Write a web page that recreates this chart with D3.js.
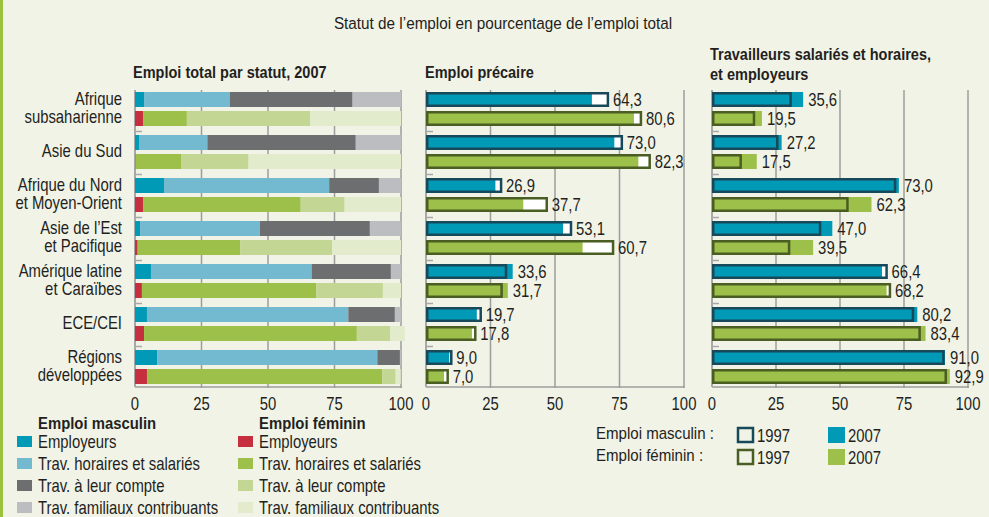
<!DOCTYPE html>
<html>
<head>
<meta charset="utf-8">
<script src="https://cdn.jsdelivr.net/npm/d3@7"></script>
<style>
  body { margin: 0; background: #f1f3e7; }
  svg text { font-family: "Liberation Sans Narrow", "Arial Narrow", "Liberation Sans", sans-serif; fill: #231f20; }
  .bold { font-weight: bold; }
</style>
</head>
<body>
<svg width="989" height="517"></svg>
<script>
// regions (line breaks as in the original chart)
var regions = [
  "Afrique\nsubsaharienne",
  "Asie du Sud",
  "Afrique du Nord\net Moyen-Orient",
  "Asie de l\u2019Est\net Pacifique",
  "Amérique latine\net Caraïbes",
  "ECE/CEI",
  "Régions\ndéveloppées"
];
var statuts = ["Employeurs", "Trav. horaires et salariés", "Trav. à leur compte", "Trav. familiaux contribuants"];
var ticks = [0, 25, 50, 75, 100];

// emploi total par statut, 2007 (employeurs, salariés, à leur compte, familiaux)
var hommes2007 = [
  [3.4, 32.3, 46.1, 18.2],
  [1.5, 25.7, 55.8, 17.0],
  [10.9, 62.1, 18.7, 8.3],
  [1.9, 45.1, 41.3, 11.7],
  [6.0, 60.4, 29.8, 3.8],
  [4.5, 75.7, 17.5, 2.3],
  [8.3, 82.8, 8.5, 0.4]
];
var femmes2007 = [
  [3.0, 16.5, 46.3, 34.2],
  [0.2, 17.3, 25.2, 57.3],
  [3.0, 59.3, 16.5, 21.2],
  [1.0, 38.5, 34.6, 25.9],
  [2.6, 65.6, 25.0, 6.8],
  [3.4, 80.0, 12.5, 5.5],
  [4.5, 88.5, 5.0, 1.9]
];

// emploi précaire
var precaireH1997 = [70.5, 75.9, 29.1, 56.2, 31.0, 21.2, 9.8];
var precaireH2007 = [64.3, 73.0, 26.9, 53.1, 33.6, 19.7, 9.0];
var precaireF1997 = [83.3, 86.7, 46.8, 72.5, 29.3, 19.1, 8.4];
var precaireF2007 = [80.6, 82.3, 37.7, 60.7, 31.7, 17.8, 7.0];

// travailleurs salariés et horaires, et employeurs
var salariesH1997 = [30.7, 25.5, 71.5, 42.2, 68.2, 78.5, 90.4];
var salariesH2007 = [35.6, 27.2, 73.0, 47.0, 66.4, 80.2, 91.0];
var salariesF1997 = [16.4, 11.2, 52.9, 30.1, 69.5, 81.1, 91.3];
var salariesF2007 = [19.5, 17.5, 62.3, 39.5, 68.2, 83.4, 92.9];

var colH = ["#0099b6", "#73b9d0", "#6d6e70", "#bcbdc0"];
var colF = ["#c6303e", "#9dc04a", "#c3d694", "#e3ebcd"];
var strokeH = "#17495a", strokeF = "#4a5d23";
var gridCol = "#9d9d9d";

var svg = d3.select("svg");
var fmt = function(v) { return d3.format(".1f")(v).replace(".", ","); };

// condensed text: the narrow face is not installed, so squeeze horizontally
var SX = 0.85;
function txt(parent, x, y, s, size, sx) {
  return parent.append("text")
    .attr("transform", "translate(" + x + "," + y + ") scale(" + (sx || SX) + ",1)")
    .style("font-size", size + "px")
    .text(s);
}

// left green border
svg.append("rect").attr("x", 0).attr("y", 0).attr("width", 3).attr("height", 517).attr("fill", "#9bc23c");

// main title
txt(svg, 503, 29, "Statut de l\u2019emploi en pourcentage de l\u2019emploi total", 17, 0.9)
  .attr("text-anchor", "middle");

// band scale for regions
var y = d3.scaleBand().domain(d3.range(regions.length)).range([90, 391]);
var barH = 15, offH = 2, offF = 21;
var yTop = 90, yAxis = 387;

// region labels
regions.forEach(function(r, i) {
  var lines = r.split("\n");
  var c = y(i) + 19;
  lines.forEach(function(l, k) {
    txt(svg, 122, c + 4.5 + (k - (lines.length - 1) / 2) * 18, l, 17.5).attr("text-anchor", "end");
  });
});

// draws gridlines, axis and separator ticks for a panel
function drawFrame(x) {
  var g = svg.append("g");
  g.selectAll(".grid").data(ticks.slice(1)).enter().append("line")
    .attr("x1", function(d) { return x(d); }).attr("x2", function(d) { return x(d); })
    .attr("y1", yTop).attr("y2", yAxis + 1)
    .attr("stroke", gridCol).attr("stroke-width", 1.5);
  g.append("line").attr("x1", x(0)).attr("x2", x(100) + 1).attr("y1", yAxis).attr("y2", yAxis)
    .attr("stroke", gridCol).attr("stroke-width", 1.5);
  g.append("line").attr("x1", x(0)).attr("x2", x(0)).attr("y1", yTop).attr("y2", yAxis)
    .attr("stroke", "#a8a8a8").attr("stroke-width", 2);
  g.selectAll(".sep").data(d3.range(1, regions.length)).enter().append("line")
    .attr("x1", x(0)).attr("x2", x(0) + 7)
    .attr("y1", function(d) { return y(d) - 1.5; }).attr("y2", function(d) { return y(d) - 1.5; })
    .attr("stroke", "#a8a8a8").attr("stroke-width", 1.5);
  ticks.forEach(function(d) {
    txt(g, x(d), 410, d, 17.5).attr("text-anchor", "middle");
  });
}

// ---- panel 1: stacked bars
var x1 = d3.scaleLinear().domain([0, 100]).range([135, 401]);
txt(svg, 133, 78, "Emploi total par statut, 2007", 16.5, 0.88).attr("class", "bold");
drawFrame(x1);

function stackRows(data, off, colors) {
  var rows = data.map(function(v, i) {
    var o = {i: i};
    v.forEach(function(d, j) { o["s" + j] = d; });
    return o;
  });
  var series = d3.stack().keys(["s0", "s1", "s2", "s3"])(rows);
  svg.append("g").selectAll("g").data(series).enter().append("g")
    .attr("fill", function(d, j) { return colors[j]; })
    .selectAll("rect").data(function(d) { return d; }).enter().append("rect")
    .attr("x", function(d) { return x1(d[0]); })
    .attr("width", function(d) { return x1(d[1]) - x1(d[0]); })
    .attr("y", function(d) { return y(d.data.i) + off; })
    .attr("height", barH);
}
stackRows(hommes2007, offH, colH);
stackRows(femmes2007, offF, colF);

// ---- panels 2 and 3: 1997 outline vs 2007 filled
function comparePanel(x, h97, h07, f97, f07) {
  drawFrame(x);
  var g = svg.append("g");
  [[h97, h07, offH, colH[0], strokeH], [f97, f07, offF, colF[1], strokeF]].forEach(function(s) {
    var v97 = s[0], v07 = s[1], off = s[2];
    g.selectAll(null).data(v97).enter().append("rect")
      .attr("x", x(0) + 1.25).attr("y", function(d, i) { return y(i) + off + 1.25; })
      .attr("width", function(d) { return x(d) - x(0) - 1.25; }).attr("height", barH - 2.5)
      .attr("fill", "#ffffff");
    g.selectAll(null).data(v07).enter().append("rect")
      .attr("x", x(0)).attr("y", function(d, i) { return y(i) + off; })
      .attr("width", function(d) { return x(d) - x(0); }).attr("height", barH)
      .attr("fill", s[3]);
    g.selectAll(null).data(v97).enter().append("rect")
      .attr("x", x(0) + 1.25).attr("y", function(d, i) { return y(i) + off + 1.25; })
      .attr("width", function(d) { return x(d) - x(0) - 1.25; }).attr("height", barH - 2.5)
      .attr("fill", "none").attr("stroke", s[4]).attr("stroke-width", 2.5);
    v07.forEach(function(d, i) {
      txt(g, x(Math.max(d, v97[i])) + 5, y(i) + off + barH / 2 + 6, fmt(d), 17.5);
    });
  });
}

var x2 = d3.scaleLinear().domain([0, 100]).range([426, 684]);
txt(svg, 425, 78, "Emploi précaire", 16.5, 0.88).attr("class", "bold");
comparePanel(x2, precaireH1997, precaireH2007, precaireF1997, precaireF2007);

var x3 = d3.scaleLinear().domain([0, 100]).range([712, 968]);
txt(svg, 710, 60, "Travailleurs salariés et horaires,", 16.5, 0.88).attr("class", "bold");
txt(svg, 710, 80, "et employeurs", 16.5, 0.88).attr("class", "bold");
comparePanel(x3, salariesH1997, salariesH2007, salariesF1997, salariesF2007);

// ---- legend left
function statutLegend(x0, title, colors) {
  var g = svg.append("g");
  txt(g, x0 + 21, 429, title, 17, 0.875).attr("class", "bold");
  statuts.forEach(function(s, k) {
    g.append("rect").attr("x", x0).attr("y", 436 + k * 22).attr("width", 15).attr("height", 11)
      .attr("fill", colors[k]);
    txt(g, x0 + 21, 448 + k * 22, s, 17.5);
  });
}
statutLegend(17, "Emploi masculin", colH);
statutLegend(238, "Emploi féminin", colF);

// ---- legend right
[["Emploi masculin :", strokeH, colH[0]], ["Emploi féminin :", strokeF, colF[1]]].forEach(function(r, k) {
  var yy = 427 + k * 22;
  txt(svg, 596, yy + 12, r[0], 17, 0.886);
  svg.append("rect").attr("x", 738).attr("y", yy + 1).attr("width", 15).attr("height", 14)
    .attr("fill", "none").attr("stroke", r[1]).attr("stroke-width", 2.5);
  txt(svg, 757, yy + 15, "1997", 17.5);
  svg.append("rect").attr("x", 828).attr("y", yy).attr("width", 17).attr("height", 16).attr("fill", r[2]);
  txt(svg, 848, yy + 15, "2007", 17.5);
});
</script>
</body>
</html>
